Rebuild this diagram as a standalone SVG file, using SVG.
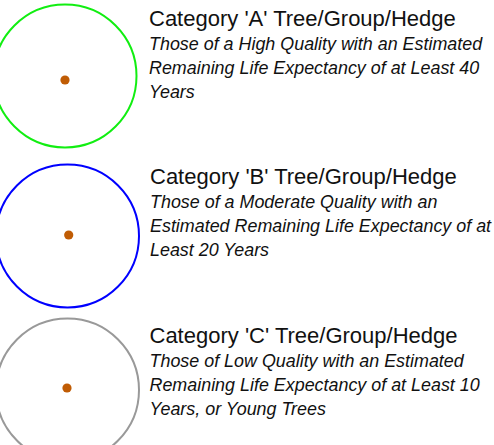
<svg xmlns="http://www.w3.org/2000/svg" width="494" height="445" viewBox="0 0 494 445">
<style>
.ring{fill:none;stroke-width:2}
.dot{fill:#c05c04}
.title{font-family:"Liberation Sans",Arial,sans-serif;font-size:22px;fill:#111}
.desc{font-family:"Liberation Sans",Arial,sans-serif;font-size:17.9px;font-style:italic;fill:#111}
</style>
<rect width="494" height="445" fill="#fff"/>
<g id="cat-a">
<circle class="ring" cx="65" cy="76" r="71.5" stroke="#11ee11"/>
<circle class="dot" cx="65" cy="80" r="4.6"/>
<text class="title" x="149" y="26">Category 'A' Tree/Group/Hedge</text>
<text class="desc" x="149" y="49.5">Those of a High Quality with an Estimated</text>
<text class="desc" x="149" y="73.5">Remaining Life Expectancy of at Least 40</text>
<text class="desc" x="149" y="97.5">Years</text>
</g>
<g id="cat-b">
<circle class="ring" cx="67.5" cy="236" r="71.5" stroke="#0000ff"/>
<circle class="dot" cx="68.7" cy="235" r="4.6"/>
<text class="title" x="150" y="184">Category 'B' Tree/Group/Hedge</text>
<text class="desc" x="150" y="207.5">Those of a Moderate Quality with an</text>
<text class="desc" x="150" y="231.5">Estimated Remaining Life Expectancy of at</text>
<text class="desc" x="150" y="255.5">Least 20 Years</text>
</g>
<g id="cat-c">
<circle class="ring" cx="67.5" cy="390" r="71.5" stroke="#999999"/>
<circle class="dot" cx="67" cy="388" r="4.6"/>
<text class="title" x="149.5" y="342.5">Category 'C' Tree/Group/Hedge</text>
<text class="desc" x="149.5" y="366.5">Those of Low Quality with an Estimated</text>
<text class="desc" x="149.5" y="390.5">Remaining Life Expectancy of at Least 10</text>
<text class="desc" x="149.5" y="414.5">Years, or Young Trees</text>
</g>
</svg>
